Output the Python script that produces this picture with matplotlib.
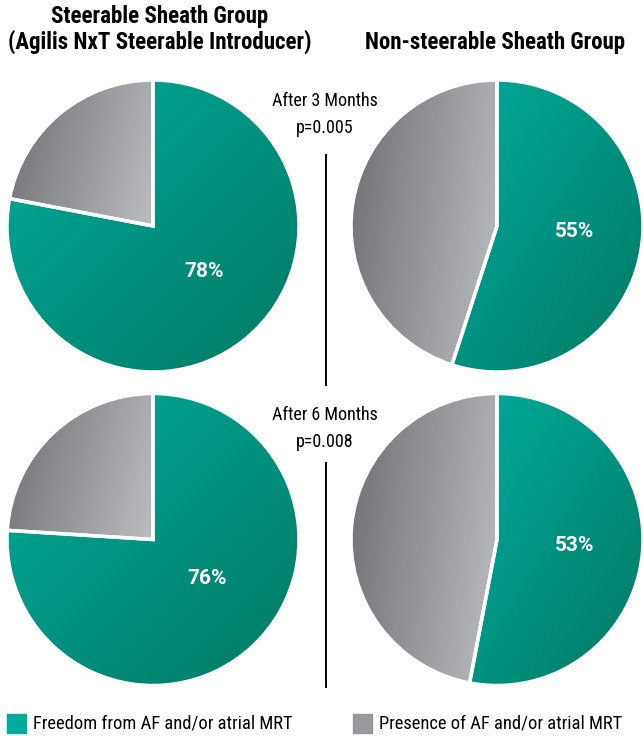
import numpy as np
import matplotlib.pyplot as plt
from matplotlib.patches import Rectangle
from matplotlib.colors import LinearSegmentedColormap

# data
freedom_pct = [78, 55, 76, 53]
periods = ['After 3 Months', 'After 6 Months']
p_values = ['p=0.005', 'p=0.008']
title_left = ['Steerable Sheath Group', '(Agilis NxT Steerable Introducer)']
title_right = 'Non-steerable Sheath Group'
legend_labels = ['Freedom from AF and/or atrial MRT', 'Presence of AF and/or atrial MRT']

FONT = ['Roboto Condensed', 'DejaVu Sans']
PCT_FONT = ['Roboto', 'DejaVu Sans']
teal_cmap = LinearSegmentedColormap.from_list('teal', ['#00ab9c', '#007a63'])
gray_cmap = LinearSegmentedColormap.from_list('gray', ['#6e6f73', '#bcbdc1'])
# where the percentage sits inside each pie (radius units)
label_pos = [(0.35, -0.31), (0.53, -0.04), (0.37, -0.27), (0.53, -0.04)]

fig = plt.figure(figsize=(6.43, 7.39), dpi=100)
W, H = 643, 739


def px_axes(x0, y0, x1, y1):
    return fig.add_axes([x0 / W, 1 - y1 / H, (x1 - x0) / W, (y1 - y0) / H])


def grad_fill(ax, wedge, cmap, wx, wy):
    # linear gradient over the wedge's bounding box
    ext = wedge.get_path().get_extents()
    gx, gy = np.meshgrid(np.linspace(0, 1, 200), np.linspace(0, 1, 200))
    g = (wx * gx + wy * gy) / (wx + wy)
    im = ax.imshow(g, cmap=cmap, extent=[ext.x0, ext.x1, ext.y0, ext.y1],
                   origin='upper', zorder=1, interpolation='bilinear')
    im.set_clip_path(wedge)


boxes = [(7, 80, 299, 372), (351, 80, 643, 372),
         (7, 393, 299, 686), (351, 393, 643, 686)]

for box, pct, pos in zip(boxes, freedom_pct, label_pos):
    ax = px_axes(*box)
    wedges, texts, autotexts = ax.pie([pct, 100 - pct], startangle=90, counterclock=False,
                                      autopct=lambda v: f'{round(v)}%',
                                      wedgeprops=dict(linewidth=2.5, edgecolor='white'))
    grad_fill(ax, wedges[0], teal_cmap, 1, 1)
    grad_fill(ax, wedges[1], gray_cmap, 0.8, 0.2)
    for w in wedges:
        w.set_facecolor('none')
        w.set_zorder(2)
    autotexts[0].set(color='white', fontsize=15, fontweight='bold', family=PCT_FONT,
                     zorder=3, position=pos)
    autotexts[1].set_visible(False)
    ax.set_xlim(-1, 1)
    ax.set_ylim(-1, 1)
    ax.set_aspect('equal')
    ax.axis('off')

# group titles
fig.text(160 / W, 1 - 16 / H, title_left[0], ha='center', va='center',
         fontsize=16.5, fontweight='bold', family=FONT)
fig.text(160 / W, 1 - 42 / H, title_left[1], ha='center', va='center',
         fontsize=16.5, fontweight='bold', family=FONT)
fig.text(495 / W, 1 - 42 / H, title_right, ha='center', va='center',
         fontsize=16.5, fontweight='bold', family=FONT)

# period annotations with divider lines
for (ytxt, yline0, yline1), per, pv in zip([(101, 155, 385), (415, 463, 687)], periods, p_values):
    fig.text(325 / W, 1 - ytxt / H, per, ha='center', va='center', fontsize=13, family=FONT)
    fig.text(325 / W, 1 - (ytxt + 27) / H, pv, ha='center', va='center', fontsize=13, family=FONT)
    fig.add_artist(plt.Line2D([326 / W, 326 / W], [1 - yline0 / H, 1 - yline1 / H],
                              color='black', linewidth=1.4))

# legend
for x, col, lab in zip([7, 353], ['#00ab9c', '#98999d'], legend_labels):
    fig.add_artist(Rectangle((x / W, 1 - 733 / H), 19 / W, 19 / H, color=col,
                             transform=fig.transFigure))
    fig.text((x + 26) / W, 1 - 724 / H, lab, ha='left', va='center', fontsize=13.3, family=FONT)

fig.savefig('out.png', dpi=100)
